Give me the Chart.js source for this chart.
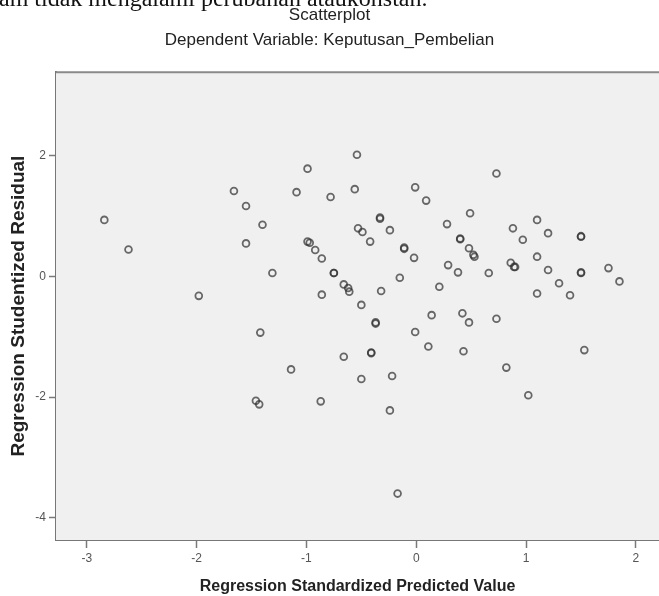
<!DOCTYPE html>
<html>
<head>
<meta charset="utf-8">
<title>Scatterplot</title>
<script src="https://cdn.jsdelivr.net/npm/chart.js@4.4.1/dist/chart.umd.min.js"></script>
<style>
    html, body { margin: 0; padding: 0; background: #ffffff; overflow: hidden; }
    #wrap { position: relative; width: 659px; height: 596px; }
    #docText {
        position: absolute; top: -14px; left: -1px;
        font: 24px/24px "Liberation Serif", "Times New Roman", serif;
        color: #111; white-space: nowrap; z-index: 2;
    }
    #scatterChart { position: absolute; top: 0; left: 0; }
</style>
</head>
<body>
<div id="wrap">
    <div id="docText">am tidak mengalami perubahan ataukonstan.</div>
    <canvas id="scatterChart" width="659" height="596"></canvas>
</div>
<script>
// Regression Standardized Predicted Value (x)
let predicted = [-2.84, -2.62, -1.98, -1.66, -1.55, -1.40, -1.55, -1.31, -1.42, -1.46,
    -1.43, -1.14, -1.09, -0.99, -0.78, -0.56, -0.54, -0.99, -0.97, -0.92,
    -0.86, -0.86, -0.87, -0.75, -0.75, -0.66, -0.62, -0.61, -0.66, -0.53,
    -0.49, -0.42, -0.50, -0.50, -0.33, -0.33, -0.24, -0.32, -0.37, -0.37,
    -0.41, -0.41, -0.22, -0.24, -0.17, -0.15, -0.11, -0.11, -0.02, -0.01,
    0.09, -0.01, 0.14, 0.11, 0.21, 0.28, 0.29, 0.38, 0.40, 0.40,
    0.48, 0.52, 0.53, 0.49, 0.42, 0.48, 0.43, 0.66, 0.73, 0.73,
    0.82, 0.86, 0.90, 0.89, 0.88, 0.97, 1.02, 1.10, 1.10, 1.10,
    1.20, 1.20, 1.30, 1.40, 1.50, 1.50, 1.50, 1.50, 1.53, 1.75,
    1.85];

// Regression Studentized Residual (y)
let residual = [0.94, 0.45, -0.32, 1.42, 1.17, 0.86, 0.55, 0.06, -0.93, -2.06,
    -2.12, -1.54, 1.40, 1.79, 1.32, 1.45, 2.02, 0.58, 0.56, 0.44,
    0.30, -0.30, -2.07, 0.06, 0.06, -0.13, -0.19, -0.25, -1.33, 0.80,
    0.74, 0.58, -0.47, -1.70, 0.98, 0.96, 0.77, -0.24, -0.76, -0.78,
    -1.26, -1.27, -1.65, -2.22, -3.60, -0.02, 0.48, 0.46, 0.31, 1.48,
    1.26, -0.92, -0.64, -1.16, -0.17, 0.87, 0.19, 0.07, 0.63, 0.62,
    0.47, 0.36, 0.33, 1.05, -0.61, -0.76, -1.24, 0.06, 1.71, -0.70,
    -1.51, 0.23, 0.16, 0.16, 0.80, 0.61, -1.97, 0.94, 0.33, -0.28,
    0.72, 0.11, -0.11, -0.31, 0.67, 0.66, 0.07, 0.06, -1.22, 0.14,
    -0.08];

let xTicks = [-3, -2, -1, 0, 1, 2];
let yTicks = [-4, -2, 0, 2];

// spss-like grey plot area with a line along the top
const plotFrame = {
    id: 'plotFrame',
    beforeDatasetsDraw(chart) {
        let { ctx, chartArea } = chart;
        ctx.save();
        ctx.fillStyle = '#f0f0f0';
        ctx.fillRect(chartArea.left, chartArea.top, chartArea.right - chartArea.left, chartArea.bottom - chartArea.top);
        ctx.strokeStyle = '#8a8a8a';
        ctx.lineWidth = 2;
        ctx.beginPath();
        ctx.moveTo(chartArea.left, chartArea.top);
        ctx.lineTo(chartArea.right, chartArea.top);
        ctx.stroke();
        ctx.restore();
    }
};

function setScatterChart() {
    let points = [];
    predicted.forEach(function (x, i) {
        points.push({ x: x, y: residual[i] });
    });

    Chart.defaults.font.family = '"Liberation Sans", Arial, sans-serif';

    new Chart("scatterChart", {
        type: "scatter",
        data: {
            datasets: [{
                data: points,
                pointStyle: 'circle',
                pointRadius: 3.4,
                pointBorderWidth: 1.8,
                pointBackgroundColor: 'rgba(0,0,0,0)',
                pointBorderColor: 'rgba(50,50,50,0.72)',
                pointHoverRadius: 3.4
            }]
        },
        plugins: [plotFrame],
        options: {
            responsive: false,
            animation: false,
            devicePixelRatio: 1,
            events: [],
            layout: { padding: 0, autoPadding: false },
            plugins: {
                legend: { display: false },
                tooltip: { enabled: false },
                title: {
                    display: true,
                    text: 'Scatterplot',
                    color: '#222',
                    font: { size: 17, weight: 'normal' },
                    padding: { top: 5, bottom: 3.4 }
                },
                subtitle: {
                    display: true,
                    text: 'Dependent Variable: Keputusan_Pembelian',
                    color: '#222',
                    font: { size: 17, weight: 'normal' },
                    padding: { top: 1, bottom: 22 }
                }
            },
            scales: {
                x: {
                    type: 'linear',
                    min: -3.28,
                    max: 2.21,
                    afterBuildTicks: function (axis) {
                        axis.ticks = xTicks.map(v => ({ value: v }));
                    },
                    afterFit: function (axis) {
                        axis.height = 56;
                        axis.paddingLeft = 0;
                        axis.paddingRight = 0;
                    },
                    grid: { drawOnChartArea: false, drawTicks: true, tickLength: 8, tickColor: '#7a7a7a', tickWidth: 1.5 },
                    border: { display: true, color: '#777', width: 2 },
                    ticks: { color: '#555', font: { size: 12 }, padding: 3 },
                    title: {
                        display: true,
                        text: 'Regression Standardized Predicted Value',
                        color: '#222',
                        font: { size: 16, weight: 'bold' },
                        padding: { top: 0, bottom: 0 }
                    }
                },
                y: {
                    type: 'linear',
                    min: -4.37,
                    max: 3.39,
                    afterBuildTicks: function (axis) {
                        axis.ticks = yTicks.map(v => ({ value: v }));
                    },
                    afterFit: function (axis) {
                        axis.width = 56;
                        axis.paddingTop = 0;
                        axis.paddingBottom = 0;
                    },
                    grid: { drawOnChartArea: false, drawTicks: true, tickLength: 7, tickColor: '#7a7a7a', tickWidth: 1.5 },
                    border: { display: true, color: '#777', width: 2 },
                    ticks: { color: '#555', font: { size: 12 }, padding: 3 },
                    title: {
                        display: true,
                        text: 'Regression Studentized Residual',
                        color: '#222',
                        font: { size: 19, weight: 'bold' },
                        padding: { top: 7.5, bottom: 0 }
                    }
                }
            }
        }
    });
}

setScatterChart();
</script>
</body>
</html>
